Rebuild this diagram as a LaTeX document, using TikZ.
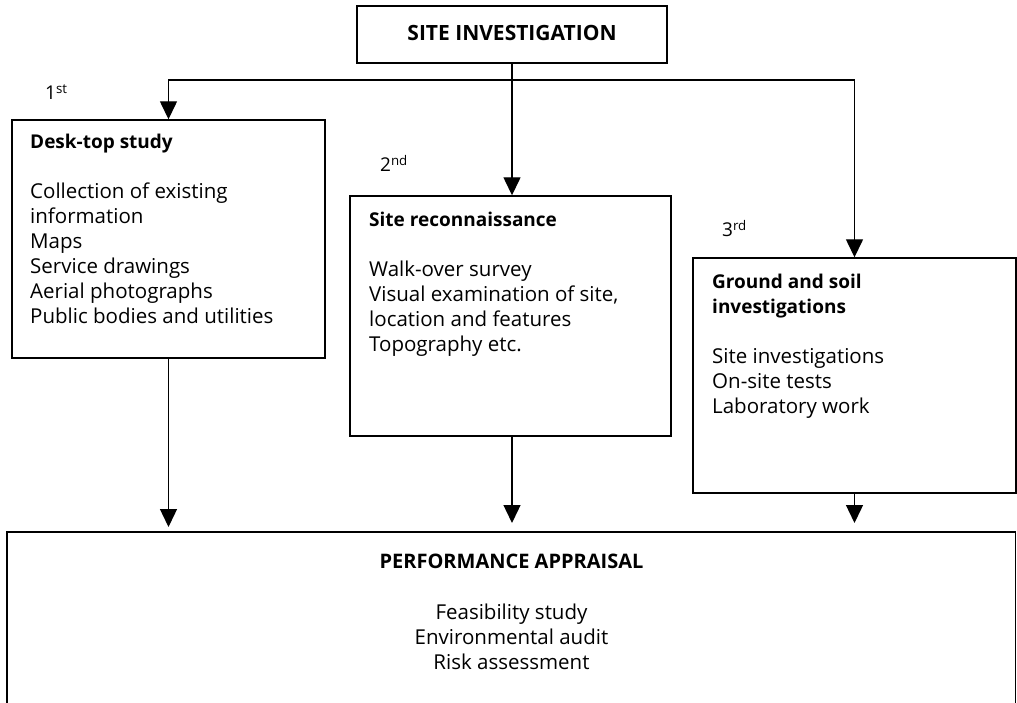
\documentclass[tikz,border=0pt]{standalone}
\usepackage{fontspec}
\setmainfont{Open Sans}
\usetikzlibrary{arrows.meta}
\newcommand\firststrut{\rule{0pt}{16pt}}
\newcommand\boxtitle[1]{{\fontsize{19}{25}\selectfont\bfseries #1}}
\tikzset{
  boxline/.style={draw=black, line width=1.4pt},
  stagebox/.style={boxline, rectangle, inner sep=0pt},
  arr/.style={line width=1.4pt, -{Triangle[length=18pt,width=17pt]}},
  plain/.style={line width=1.4pt},
  body/.style={inner sep=0pt, align=left, anchor=north west, font=\fontsize{20.5}{25}\selectfont},
  cbody/.style={inner sep=0pt, align=center, anchor=north, font=\fontsize{20.5}{25}\selectfont},
  order/.style={inner sep=0pt, anchor=base west, font=\fontsize{19}{22}\selectfont}
}
\begin{document}
\begin{tikzpicture}[x=1pt,y=-1pt]
\useasboundingbox (0,0) rectangle (1017,703);
% boxes
\node[stagebox, minimum width=310pt, minimum height=57pt] (top) at (512,34.5) {};
\node[stagebox, minimum width=313pt, minimum height=238pt] (box1) at (168.5,239) {};
\node[stagebox, minimum width=321pt, minimum height=240pt] (box2) at (510.5,316) {};
\node[stagebox, minimum width=323pt, minimum height=235pt] (box3) at (854.5,375.5) {};
\node[inner sep=0pt, minimum width=1008pt, minimum height=171pt] (appr) at (511,617.5) {};
\draw[boxline] (appr.south west) -- (appr.north west) -- (appr.north east) -- (appr.south east);
% texts
\node[anchor=base, inner sep=0pt, font=\fontsize{21}{25}\selectfont\bfseries] (toptxt) at (512,41) {SITE INVESTIGATION};
\node[body] (t1) at (30,132) {\firststrut\boxtitle{Desk-top study}\\[25pt]Collection of existing\\information\\Maps\\Service drawings\\Aerial photographs\\Public bodies and utilities};
\node[body] (t2) at (369,210) {\firststrut\boxtitle{Site reconnaissance}\\[25pt]Walk-over survey\\Visual examination of site,\\location and features\\Topography etc.};
\node[body] (t3) at (712,272) {\firststrut\boxtitle{Ground and soil}\\\boxtitle{investigations}\\[25pt]Site investigations\\On-site tests\\Laboratory work};
\node[cbody] (t4) at (511.5,552) {\firststrut{\fontsize{20}{25}\selectfont\bfseries PERFORMANCE APPRAISAL}\\[26pt]Feasibility study\\Environmental audit\\Risk assessment};
% order labels
\node[order] (o1) at (45,100) {1\textsuperscript{st}};
\node[order] (o2) at (380,172) {2\textsuperscript{nd}};
\node[order] (o3) at (722,237) {3\textsuperscript{rd}};
% connectors
\coordinate (junc) at (512,80);
\draw[plain] (top.south) -- (junc);
\draw[arr] (junc) -- (junc |- box2.north);
\draw[arr] (junc) -| (box1.north);
\draw[arr] (junc) -| (box3.north);
\coordinate (e1) at (168.5,527);
\coordinate (e2) at (512,523);
\coordinate (e3) at (854.5,523);
\draw[arr] (box1.south) -- (e1);
\draw[arr] (box2.south -| e2) -- (e2);
\draw[arr] (box3.south) -- (e3);
\end{tikzpicture}
\end{document}
